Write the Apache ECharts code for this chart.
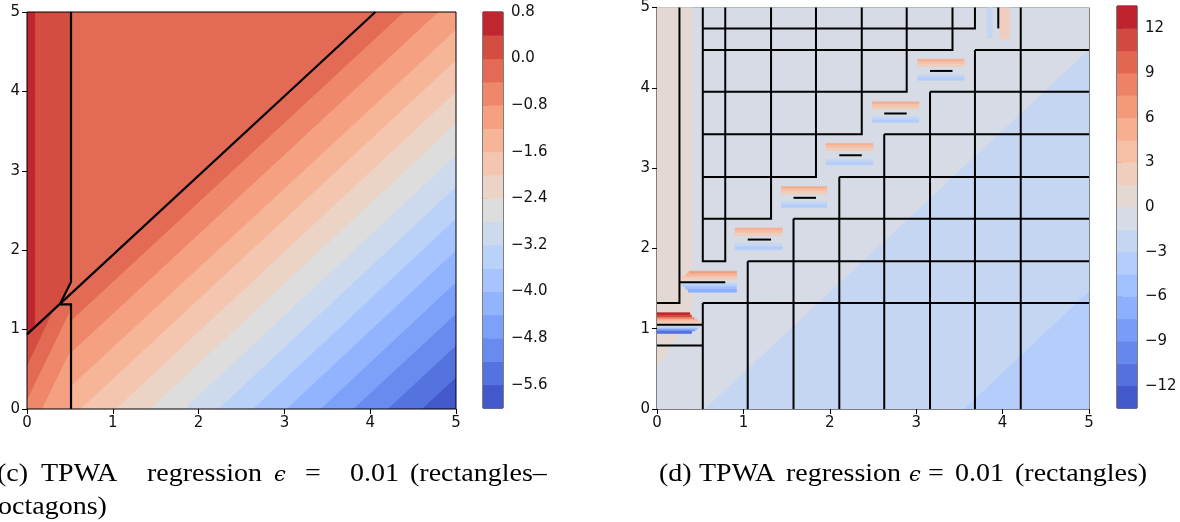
<!DOCTYPE html>
<html>
<head>
<meta charset="utf-8">
<script src="https://cdn.jsdelivr.net/npm/echarts@6/dist/echarts.min.js"></script>
<style>
html,body{margin:0;padding:0;background:#fff;}
#chart{width:1180px;height:522px;}
</style>
</head>
<body>
<div id="chart"></div>
<script>
// ---- data ----
// colour levels of the two colorbars
var leftLevels = [-6.0,-5.6,-5.2,-4.8,-4.4,-4.0,-3.6,-3.2,-2.8,-2.4,-2.0,-1.6,-1.2,-0.8,-0.4,0.0,0.4,0.8];
var leftTicks = [-5.6,-4.8,-4.0,-3.2,-2.4,-1.6,-0.8,0.0,0.8];
var rightLevels = [-13.5,-12,-10.5,-9,-7.5,-6,-4.5,-3,-1.5,0,1.5,3,4.5,6,7.5,9,10.5,12,13.5];
var rightTicks = [-12,-9,-6,-3,0,3,6,9,12];

// (c) pieces of the partition
var leftPieceTopLeft = [[0,0.94],[0.383,1.318],[0.513,1.6],[0.513,5],[0,5]];
var leftPieceBig = [[0.513,5],[0.513,1.6],[0.383,1.318],[4.06,5]];
var leftPieceBelow = [[0.513,0],[5,0],[5,5],[4.06,5],[0.383,1.318],[0.513,1.318]];
var leftPieceBottomLeft = [[0,0],[0.513,0],[0.513,1.318],[0.383,1.318],[0,0.94]];

// contour lines inside the pieces: [from, to, band above/left]
var leftTopLeftContours = [[[0.09,0],[0.09,5],16]];
var leftBelowContours = [
  [[4.6,0],[5,0.4],1],[[4.2,0],[5,0.8],2],[[3.8,0],[5,1.2],3],[[3.42,0],[5,1.6],4],
  [[3.02,0],[5,2.0],5],[[2.63,0],[5,2.4],6],[[2.23,0],[5,2.8],7],[[1.83,0],[5,3.2],8],
  [[1.43,0],[5,3.6],9],[[1.03,0],[5,4.0],10],[[0.62,0],[5,4.4],11],[[0.22,0],[5,4.78],12],
  [[-0.2,0],[4.79,5],13],[[-0.6,0],[4.39,5],14]
];
var leftBottomLeftContours = [
  [[0.17,0],[0.6,0.95],13],[[0,0.12],[0.55,1.35],14],[[0,0.55],[0.35,1.35],15]
];
var leftLines = [
  [[0,0.94],[4.06,5]],
  [[0.513,5],[0.513,1.6],[0.383,1.318]],
  [[0.383,1.318],[0.513,1.318],[0.513,0]]
];

// (d) background field
var rightFrame = [[0,0],[5,0],[5,5],[0,5]];
var rightContours = [[[3.55,0],[5,1.47],7],[[0.55,0],[5,4.48],8]];
var rightPink = [[0,5],[0.4,5],[0.4,1.15],[0,0.52]];
// thin stripes: [x0, x1, y0, y1, band]
var rightStripes = [
  [0,0.38,1.17,1.20,17],[0,0.40,1.14,1.17,16],[0,0.43,1.12,1.14,14],[0,0.46,1.10,1.12,12],[0,0.48,1.08,1.10,11],[0,0.50,1.063,1.08,10],
  [0,0.50,1.01,1.03,7],[0,0.47,0.99,1.01,5],[0,0.44,0.97,0.99,3],[0,0.40,0.94,0.97,1],
  [0.37,0.92,1.69,1.716,13],[0.34,0.92,1.66,1.69,12],[0.31,0.92,1.635,1.66,11],[0.28,0.92,1.61,1.635,10],
  [0.27,0.92,1.545,1.57,7],[0.30,0.92,1.52,1.545,6],[0.33,0.92,1.49,1.52,5],[0.36,0.92,1.455,1.49,4],
  [0.905,1.45,2.222,2.253,12],[0.905,1.45,2.19,2.222,11],[0.905,1.45,2.158,2.19,10],[0.905,1.45,2.022,2.062,7],[0.905,1.45,1.983,2.022,6],
  [1.44,1.965,2.74,2.77,12],[1.44,1.965,2.708,2.74,11],[1.44,1.965,2.676,2.708,10],[1.44,1.965,2.548,2.585,7],[1.44,1.965,2.51,2.548,6],
  [1.957,2.50,3.277,3.307,12],[1.957,2.50,3.246,3.277,11],[1.957,2.50,3.216,3.246,10],[1.957,2.50,3.075,3.11,7],[1.957,2.50,3.04,3.075,6],
  [2.49,3.03,3.796,3.826,12],[2.49,3.03,3.765,3.796,11],[2.49,3.03,3.734,3.765,10],[2.49,3.03,3.603,3.639,7],[2.49,3.03,3.568,3.603,6],
  [3.017,3.554,4.327,4.357,12],[3.017,3.554,4.296,4.327,11],[3.017,3.554,4.266,4.296,10],[3.017,3.554,4.128,4.162,7],[3.017,3.554,4.095,4.128,6],
  [3.82,3.88,4.62,5,7],[3.97,4.08,4.61,5,10]
];
var rightLines = [
  [[0.26,5],[0.26,1.32],[0,1.32]],
  [[0.26,1.58],[0.79,1.58]],
  [[0,1.05],[0.53,1.05]],[[0,0.79],[0.53,0.79]],[[0.53,0],[0.53,1.32]],
  [[0.53,1.32],[5,1.32]],[[1.05,1.84],[5,1.84]],[[1.58,2.37],[5,2.37]],[[2.11,2.89],[5,2.89]],
  [[2.63,3.42],[5,3.42]],[[3.16,3.95],[5,3.95]],[[3.68,4.47],[5,4.47]],
  [[1.05,0],[1.05,1.84]],[[1.58,0],[1.58,2.37]],[[2.11,0],[2.11,2.89]],[[2.63,0],[2.63,3.42]],
  [[3.16,0],[3.16,3.95]],[[3.68,0],[3.68,4.47]],[[4.21,0],[4.21,5]],
  [[0.53,5],[0.53,1.84],[0.79,1.84],[0.79,5]],
  [[0.53,2.37],[1.32,2.37],[1.32,5]],[[0.53,2.89],[1.84,2.89],[1.84,5]],
  [[0.53,3.42],[2.37,3.42],[2.37,5]],[[0.53,3.95],[2.89,3.95],[2.89,5]],
  [[0.53,4.47],[3.42,4.47],[3.42,5]],[[0.53,4.74],[3.68,4.74],[3.68,5]],
  [[1.05,2.11],[1.32,2.11]],[[1.58,2.63],[1.84,2.63]],[[2.11,3.16],[2.37,3.16]],
  [[2.63,3.68],[2.89,3.68]],[[3.16,4.21],[3.42,4.21]],[[3.95,4.74],[3.95,5]]
];

// captions: [text, x, line, italic]
var captionWords = [
  ['(c)', -3, 0], ['TPWA', 41, 0], ['regression', 147, 0], ['\u03f5', 274, 0, 1], ['=', 305, 0],
  ['0.01', 350, 0], ['(rectangles\u2013', 410, 0], ['octagons)', -2, 1],
  ['(d)', 659, 0], ['TPWA', 699, 0], ['regression', 786, 0], ['\u03f5', 909, 0, 1], ['=', 928, 0],
  ['0.01', 955, 0], ['(rectangles)', 1015, 0]
];

// coolwarm colormap (Moreland table)
var COOLWARM = [[59,76,192],[68,90,204],[77,104,215],[87,117,225],[98,130,234],[108,142,241],[119,154,247],[130,165,251],
  [141,176,254],[152,185,255],[163,194,255],[174,201,253],[184,208,249],[194,213,244],[204,217,238],[213,219,230],
  [221,221,221],[229,216,209],[236,211,197],[241,204,185],[245,196,173],[247,187,160],[247,177,148],[247,166,135],
  [244,154,123],[241,141,111],[236,127,99],[229,112,88],[222,96,77],[213,80,66],[203,62,56],[192,40,47],[180,4,38]];

function coolwarm(t){
  var p = Math.max(0, Math.min(1, t)) * (COOLWARM.length - 1);
  var i = Math.min(Math.floor(p), COOLWARM.length - 2), f = p - i;
  var a = COOLWARM[i], b = COOLWARM[i+1];
  return 'rgb(' + [0,1,2].map(function(k){ return Math.round(a[k] + (b[k]-a[k])*f); }).join(',') + ')';
}
function leftColor(b){ return coolwarm((b + 0.5) / (leftLevels.length - 1)); }
function rightColor(b){ return coolwarm((b + 0.5) / (rightLevels.length - 1)); }

// keep the part of poly on the left of p->q
function clip(poly, p, q){
  var out = [];
  function side(v){ return (q[0]-p[0])*(v[1]-p[1]) - (q[1]-p[1])*(v[0]-p[0]); }
  for (var i = 0; i < poly.length; i++){
    var cur = poly[i], prev = poly[(i + poly.length - 1) % poly.length];
    var sc = side(cur), sp = side(prev);
    if ((sc >= 0) !== (sp >= 0)){
      var t = sp / (sp - sc);
      out.push([prev[0] + t*(cur[0]-prev[0]), prev[1] + t*(cur[1]-prev[1])]);
    }
    if (sc >= 0) out.push(cur);
  }
  return out;
}

function addPiece(list, poly, base, contours, colorFn){
  list.push({pts: poly, color: colorFn(base)});
  (contours || []).forEach(function(c){
    var part = clip(poly, c[0], c[1]);
    if (part.length > 2) list.push({pts: part, color: colorFn(c[2])});
  });
}

var leftFills = [];
addPiece(leftFills, leftPieceTopLeft, 15, leftTopLeftContours, leftColor);
addPiece(leftFills, leftPieceBig, 14, [], leftColor);
addPiece(leftFills, leftPieceBelow, 0, leftBelowContours, leftColor);
addPiece(leftFills, leftPieceBottomLeft, 12, leftBottomLeftContours, leftColor);

var rightFills = [];
addPiece(rightFills, rightFrame, 6, rightContours, rightColor);
rightFills.push({pts: rightPink, color: rightColor(9)});
rightStripes.forEach(function(s){
  rightFills.push({pts: [[s[0],s[2]],[s[1],s[2]],[s[1],s[3]],[s[0],s[3]]], color: rightColor(s[4])});
});

function fillSeries(idx, fills){
  return {
    type: 'custom', xAxisIndex: idx, yAxisIndex: idx, silent: true, clip: true,
    data: fills.map(function(f, i){ return [0, 0, i]; }),
    renderItem: function(params, api){
      var f = fills[api.value(2)];
      return {type: 'polygon', shape: {points: f.pts.map(function(p){ return api.coord(p); })},
        style: {fill: f.color, stroke: f.color, lineWidth: 0.6}};
    }
  };
}
function lineSeries(idx, lines, w){
  return {
    type: 'custom', xAxisIndex: idx, yAxisIndex: idx, silent: true, z: 5,
    data: lines.map(function(l, i){ return [0, 0, i]; }),
    renderItem: function(params, api){
      return {type: 'polyline', shape: {points: lines[api.value(2)].map(function(p){ return api.coord(p); })},
        style: {stroke: '#000', lineWidth: w, fill: null, lineJoin: 'miter'}};
    }
  };
}
function barSeries(idx, levels, colorFn){
  return {
    type: 'custom', xAxisIndex: idx, yAxisIndex: idx, silent: true,
    data: levels.slice(0, -1).map(function(v, i){ return [0, v, i]; }),
    renderItem: function(params, api){
      var i = api.value(2);
      var a = api.coord([0, levels[i]]), b = api.coord([1, levels[i+1]]);
      return {type: 'rect', shape: {x: a[0], y: b[1], width: b[0]-a[0], height: a[1]-b[1] + 0.5},
        style: {fill: colorFn(i)}};
    }
  };
}

var font = 'DejaVu Sans';
function minus(s){ return s.replace('-', '\u2212'); }
function plotAxis(idx){
  return {gridIndex: idx, type: 'value', min: 0, max: 5, interval: 1,
    axisLine: {show: false}, splitLine: {show: false},
    axisTick: {show: true, length: 5, lineStyle: {color: '#000', width: 1}},
    axisLabel: {color: '#111', fontSize: 15, fontFamily: font, margin: 7}};
}
function barY(idx, levels, ticks, fmt){
  return {gridIndex: idx, type: 'value', position: 'right', min: levels[0], max: levels[levels.length-1],
    axisLine: {show: false}, splitLine: {show: false},
    axisTick: {show: true, length: 5, customValues: ticks, lineStyle: {color: '#000', width: 1}},
    axisLabel: {color: '#111', fontSize: 15, fontFamily: font, margin: 8, customValues: ticks, formatter: fmt}};
}
function hiddenX(idx){
  return {gridIndex: idx, type: 'value', min: 0, max: 1, show: false};
}

var graphics = captionWords.map(function(w){
  return {type: 'text', x: w[1], y: w[2] ? 495 : 462, scaleX: w[3] ? 1 : 1.12,
    style: {text: w[0], font: w[3] ? 'italic 21px "DejaVu Serif"' : '25px "Liberation Serif"',
      fill: '#000', y: w[3] ? 3 : 0}};
});

var border = {show: true, borderColor: '#000', borderWidth: 1, backgroundColor: 'transparent'};
var chart = echarts.init(document.getElementById('chart'), null, {renderer: 'canvas'});
chart.setOption({
  animation: false,
  backgroundColor: '#fff',
  grid: [
    Object.assign({left: 27, top: 12, width: 429, height: 397, z: 10}, border),
    Object.assign({left: 483, top: 12, width: 20, height: 396}, border),
    Object.assign({left: 657, top: 6, width: 432, height: 403}, border),
    Object.assign({left: 1117, top: 6, width: 20, height: 402}, border)
  ],
  xAxis: [plotAxis(0), hiddenX(1), plotAxis(2), hiddenX(3)],
  yAxis: [
    plotAxis(0),
    barY(1, leftLevels, leftTicks, function(v){ return minus(v.toFixed(1)); }),
    plotAxis(2),
    barY(3, rightLevels, rightTicks, function(v){ return minus(String(Math.round(v))); })
  ],
  series: [
    fillSeries(0, leftFills), lineSeries(0, leftLines, 2.2),
    barSeries(1, leftLevels, leftColor),
    fillSeries(2, rightFills), lineSeries(2, rightLines, 2),
    barSeries(3, rightLevels, rightColor)
  ],
  graphic: graphics
});
</script>
</body>
</html>
